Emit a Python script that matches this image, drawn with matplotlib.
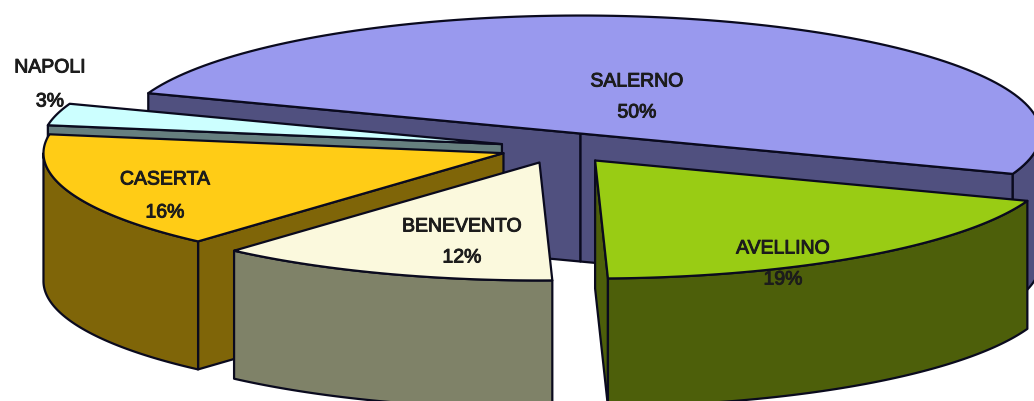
import numpy as np
import matplotlib
matplotlib.use("Agg")
import matplotlib.pyplot as plt
import matplotlib.patheffects as pe
from matplotlib.patches import Polygon

# Province shares, clockwise from the upper left of the pie
provinces = ["SALERNO", "AVELLINO", "BENEVENTO", "CASERTA", "NAPOLI"]
shares = [50, 19, 12, 16, 3]
share_labels = ["50%", "19%", "12%", "16%", "3%"]

top_colors = ["#9999EE", "#99CC14", "#FBF9DD", "#FFCC16", "#CCFFFF"]
side_colors = ["#50507F", "#4D5F0A", "#7F8268", "#7F6508", "#667F7F"]

# Projection of the tilted pie, in pixel units
CX, CY = 560, 148
RX, RY = 460, 118
DEPTH = 128
EXPLODE = 60
START_DEG = 160
EDGE = "#0a0a1e"
LW = 1.6

label_xy = [(637, 82, 113), (783, 249, 280), (462, 227, 258), (165, 180, 213), (50, 68, 102)]
# Back slices first so that nearer ones cover them
paint_order = [0, 4, 3, 2, 1]

fig = plt.figure(figsize=(10.34, 4.01), dpi=100)
ax = fig.add_axes([0, 0, 1, 1])
ax.set_xlim(0, 1034)
ax.set_ylim(401, 0)
ax.axis("off")


def rim(ox, oy, a, b, n=120):
    t = np.radians(np.linspace(a, b, n))
    return np.column_stack([ox + RX * np.cos(t), oy - RY * np.sin(t)])


def add(points, color, z):
    ax.add_patch(Polygon(points, closed=True, facecolor=color, edgecolor=EDGE,
                         linewidth=LW, joinstyle="round", zorder=z))


angles = START_DEG - np.cumsum([0] + shares) * 3.6
for rank, i in enumerate(paint_order):
    hi, lo = angles[i], angles[i + 1]
    mid = np.radians((hi + lo) / 2)
    ox = CX + EXPLODE * np.cos(mid)
    oy = CY - EXPLODE * RY / RX * np.sin(mid)
    apex = np.array([ox, oy])
    drop = np.array([0, DEPTH])
    z = 10 * (rank + 1)

    # Straight cut faces, skipping those that point away from the viewer
    for ang, visible in ((hi, np.cos(np.radians(hi)) < 0), (lo, np.cos(np.radians(lo)) > 0)):
        if visible:
            end = rim(ox, oy, ang, ang, 1)[0]
            add([apex, end, end + drop, apex + drop], side_colors[i], z)

    # Outer wall: only the part of the rim facing the viewer
    a, b = min(hi, 0), max(lo, -180)
    if a > b:
        arc = rim(ox, oy, a, b)
        add(np.vstack([arc, (arc + drop)[::-1]]), side_colors[i], z + 1)

    # Top surface
    add(np.vstack([apex, rim(ox, oy, hi, lo)]), top_colors[i], z + 2)

# Category names and percentages
halo = [pe.withStroke(linewidth=0.7, foreground="#1c1c1c")]
for name, pct, (x, y1, y2) in zip(provinces, share_labels, label_xy):
    for txt, y in ((name, y1), (pct, y2)):
        ax.text(x, y, txt, ha="center", va="center", fontsize=14, color="#1c1c1c",
                family="Liberation Sans", zorder=100, path_effects=halo)

fig.savefig("out.png", dpi=100)
